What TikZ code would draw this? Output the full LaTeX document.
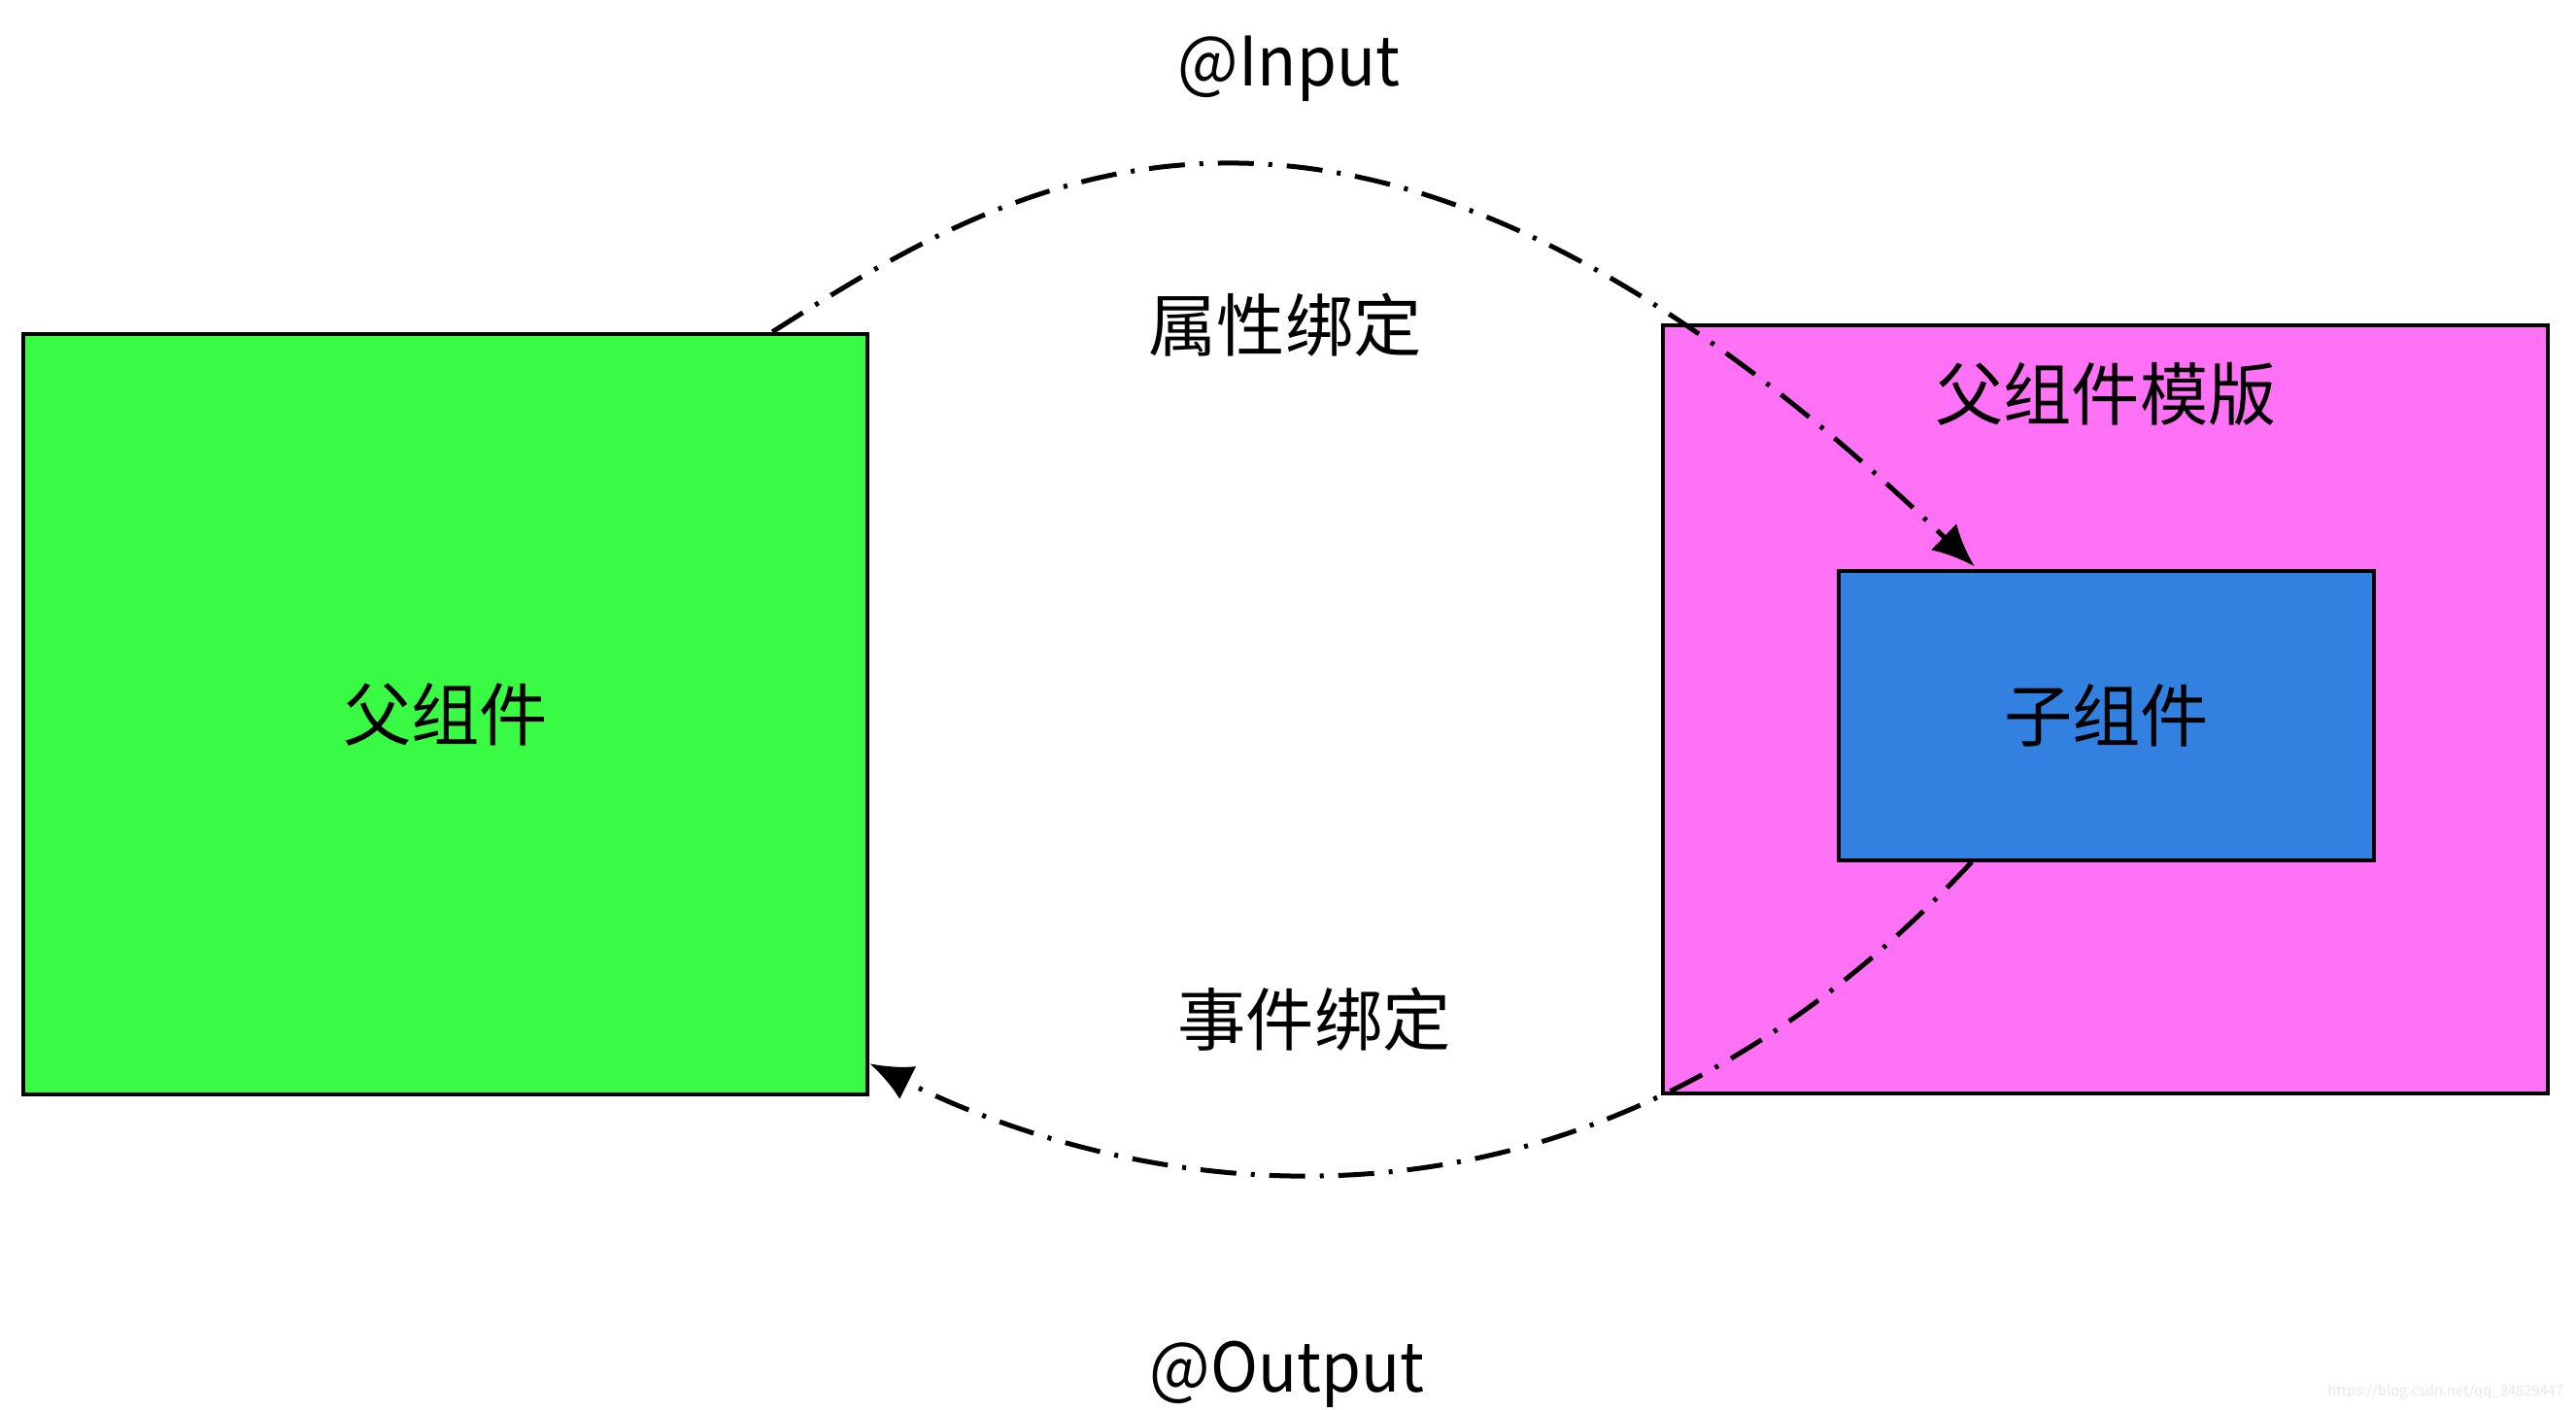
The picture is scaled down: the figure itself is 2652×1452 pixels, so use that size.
\documentclass[tikz,border=0pt]{standalone}
\usepackage{fontspec}
\setmainfont{Noto Sans CJK SC}
\newfontfamily\latinfont[FakeStretch=0.94]{Noto Sans CJK SC}
\usetikzlibrary{arrows.meta}
\definecolor{gfill}{RGB}{58,251,68}
\definecolor{pfill}{RGB}{255,114,246}
\definecolor{bfill}{RGB}{50,128,224}
\definecolor{wm}{RGB}{232,232,232}
\begin{document}
\begin{tikzpicture}[x=0.01cm,y=-0.01cm,
  box/.style={draw=black,line width=0.04cm,inner sep=0pt,font=\fontsize{20}{24}\selectfont},
  lbl/.style={inner sep=0pt,font=\fontsize{20}{24}\selectfont},
  atlbl/.style={inner sep=0pt,anchor=base,font=\latinfont\fontsize{20}{24}\selectfont},
  flow/.style={line width=0.05cm,dash pattern=on 0.37cm off 0.15cm on 0.04cm off 0.15cm,
    -{Latex[length=0.44cm,width=0.38cm]}}]
\useasboundingbox (0,0) rectangle (2652,1452);
\fill[white] (0,0) rectangle (2652,1452);
\node[box,fill=gfill,minimum width=8.69cm,minimum height=7.83cm] (green) at (458.5,735.5) {父组件};
\node[box,fill=pfill,minimum width=9.11cm,minimum height=7.91cm] (pink) at (2167.5,730.5) {};
\node[box,fill=bfill,minimum width=5.51cm,minimum height=2.97cm] (blue) at (2168.5,737) {子组件};
\node[lbl] (tmpl) at (2168,406) {父组件模版};
\node[atlbl] (input) at (1327,89) {@Input};
\node[lbl] (prop) at (1323,335) {属性绑定};
\node[lbl] (event) at (1353,1050) {事件绑定};
\node[atlbl] (output) at (1325,1433) {@Output};
\node[inner sep=0pt,text=wm,font=\fontsize{4.2}{5}\selectfont,anchor=east] (mark) at (2640,1433) {https://blog.csdn.net/qq\_34829447};
\draw[flow] ([xshift=7.73cm]green.north west) .. controls (1050,180) and (1394,-31) .. ([xshift=-1.355cm,yshift=0.03cm]blue.north);
\draw[flow] ([xshift=-1.385cm]blue.south) .. controls (1593,1356) and (1112,1204) .. ([yshift=0.34cm]green.south east);
\end{tikzpicture}
\end{document}
